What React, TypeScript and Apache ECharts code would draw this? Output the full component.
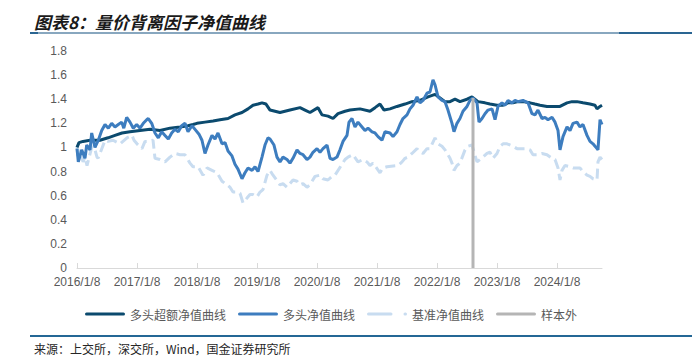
import React, { useEffect, useRef } from "react";
import * as echarts from "echarts";

const titleText = "图表8：量价背离因子净值曲线";
const sourceText = "来源：上交所，深交所，Wind，国金证券研究所";
const seriesNames = ["多头超额净值曲线", "多头净值曲线", "基准净值曲线", "样本外"];
const tickLabels = ["2016/1/8", "2017/1/8", "2018/1/8", "2019/1/8", "2020/1/8", "2021/1/8", "2022/1/8", "2023/1/8", "2024/1/8"];
const firstYear = 2016;
const lastTime = 2024.75;

// [time in fractional years since 2016/1/8, value]
const excessCurve: [number, number][] = [
  [2016.0, 1.0], [2016.033, 1.04], [2016.1, 1.05], [2016.217, 1.06], [2016.383, 1.06], [2016.517, 1.08],
  [2016.633, 1.1], [2016.75, 1.12], [2016.883, 1.13], [2017.05, 1.14], [2017.217, 1.15], [2017.383, 1.14],
  [2017.55, 1.16], [2017.717, 1.17], [2017.85, 1.18], [2017.933, 1.19], [2018.0, 1.2], [2018.133, 1.21],
  [2018.267, 1.22], [2018.383, 1.23], [2018.517, 1.24], [2018.633, 1.27], [2018.75, 1.29], [2018.85, 1.32],
  [2018.933, 1.35], [2019.017, 1.36], [2019.083, 1.37], [2019.15, 1.36], [2019.217, 1.31], [2019.3, 1.3],
  [2019.383, 1.29], [2019.55, 1.31], [2019.717, 1.33], [2019.8, 1.31], [2019.883, 1.29], [2020.017, 1.33],
  [2020.083, 1.27], [2020.183, 1.26], [2020.267, 1.24], [2020.35, 1.28], [2020.467, 1.3], [2020.55, 1.31],
  [2020.717, 1.32], [2020.883, 1.3], [2020.967, 1.33], [2021.05, 1.36], [2021.117, 1.31], [2021.217, 1.32],
  [2021.333, 1.34], [2021.467, 1.36], [2021.583, 1.38], [2021.717, 1.39], [2021.85, 1.42], [2021.967, 1.44],
  [2022.05, 1.41], [2022.133, 1.38], [2022.217, 1.38], [2022.3, 1.4], [2022.383, 1.38], [2022.5, 1.4],
  [2022.583, 1.42], [2022.683, 1.38], [2022.8, 1.37], [2022.883, 1.36], [2023.0, 1.35], [2023.1, 1.35],
  [2023.183, 1.37], [2023.267, 1.37], [2023.35, 1.38], [2023.433, 1.38], [2023.55, 1.37], [2023.633, 1.36],
  [2023.717, 1.35], [2023.833, 1.34], [2023.933, 1.34], [2024.05, 1.34], [2024.167, 1.37], [2024.25, 1.38],
  [2024.333, 1.38], [2024.433, 1.37], [2024.55, 1.36], [2024.633, 1.35], [2024.667, 1.32], [2024.717, 1.34],
  [2024.75, 1.35],
];

const longCurve: [number, number][] = [
  [2016.0, 0.99], [2016.022, 0.88], [2016.078, 0.98], [2016.133, 0.91], [2016.162, 1.02], [2016.217, 0.98],
  [2016.245, 1.12], [2016.3, 1.0], [2016.355, 1.06], [2016.412, 1.14], [2016.467, 1.19], [2016.522, 1.16],
  [2016.578, 1.2], [2016.633, 1.17], [2016.688, 1.19], [2016.745, 1.21], [2016.78, 1.16], [2016.828, 1.25],
  [2016.883, 1.21], [2016.938, 1.16], [2016.995, 1.19], [2017.05, 1.16], [2017.105, 1.2], [2017.162, 1.23],
  [2017.188, 1.24], [2017.245, 1.2], [2017.3, 1.12], [2017.355, 1.08], [2017.412, 1.13], [2017.467, 1.1],
  [2017.522, 1.07], [2017.578, 1.12], [2017.633, 1.15], [2017.688, 1.13], [2017.745, 1.18], [2017.8, 1.2],
  [2017.85, 1.13], [2017.917, 1.18], [2017.967, 1.15], [2018.033, 1.11], [2018.083, 1.06], [2018.133, 0.95],
  [2018.183, 1.02], [2018.25, 1.1], [2018.3, 1.07], [2018.35, 1.12], [2018.417, 1.03], [2018.467, 1.04],
  [2018.517, 0.97], [2018.583, 0.93], [2018.633, 0.86], [2018.683, 0.82], [2018.75, 0.74], [2018.8, 0.79],
  [2018.85, 0.83], [2018.917, 0.81], [2018.967, 0.84], [2019.017, 0.8], [2019.083, 0.92], [2019.133, 1.02],
  [2019.183, 1.08], [2019.217, 1.07], [2019.283, 1.02], [2019.333, 0.92], [2019.383, 0.88], [2019.433, 0.92],
  [2019.5, 0.9], [2019.55, 0.87], [2019.6, 0.91], [2019.667, 0.98], [2019.717, 0.95], [2019.767, 0.94],
  [2019.833, 0.9], [2019.883, 0.92], [2019.933, 0.96], [2020.0, 0.99], [2020.05, 0.96], [2020.1, 0.99],
  [2020.167, 1.02], [2020.217, 0.91], [2020.267, 0.9], [2020.333, 0.92], [2020.383, 0.98], [2020.433, 1.05],
  [2020.5, 1.1], [2020.533, 1.21], [2020.583, 1.24], [2020.633, 1.17], [2020.683, 1.21], [2020.75, 1.17],
  [2020.8, 1.14], [2020.85, 1.16], [2020.917, 1.13], [2020.967, 1.12], [2021.017, 1.09], [2021.083, 1.06],
  [2021.133, 1.13], [2021.217, 1.12], [2021.267, 1.09], [2021.333, 1.13], [2021.383, 1.19], [2021.433, 1.24],
  [2021.5, 1.27], [2021.55, 1.32], [2021.6, 1.35], [2021.667, 1.42], [2021.717, 1.37], [2021.767, 1.39],
  [2021.833, 1.45], [2021.883, 1.46], [2021.933, 1.56], [2021.967, 1.52], [2022.017, 1.42], [2022.083, 1.39],
  [2022.133, 1.38], [2022.183, 1.31], [2022.25, 1.2], [2022.283, 1.13], [2022.333, 1.2], [2022.383, 1.24],
  [2022.433, 1.3], [2022.5, 1.34], [2022.55, 1.39], [2022.6, 1.41], [2022.667, 1.37], [2022.7, 1.21],
  [2022.75, 1.24], [2022.8, 1.28], [2022.85, 1.31], [2022.917, 1.32], [2022.967, 1.23], [2023.017, 1.34],
  [2023.083, 1.37], [2023.133, 1.35], [2023.183, 1.39], [2023.25, 1.37], [2023.3, 1.39], [2023.35, 1.38],
  [2023.433, 1.39], [2023.517, 1.37], [2023.583, 1.28], [2023.633, 1.27], [2023.683, 1.31], [2023.75, 1.24],
  [2023.8, 1.25], [2023.85, 1.23], [2023.917, 1.25], [2023.967, 1.21], [2024.017, 1.14], [2024.05, 0.98],
  [2024.1, 1.09], [2024.167, 1.17], [2024.217, 1.14], [2024.267, 1.2], [2024.333, 1.21], [2024.383, 1.17],
  [2024.433, 1.19], [2024.5, 1.1], [2024.55, 1.05], [2024.6, 1.03], [2024.667, 0.99], [2024.683, 0.98],
  [2024.717, 1.23], [2024.75, 1.19],
];

const benchmarkCurve: [number, number][] = [
  [2016.0, 1.01], [2016.017, 0.9], [2016.05, 0.98], [2016.1, 0.88], [2016.133, 0.92], [2016.167, 0.85],
  [2016.25, 1.01], [2016.3, 0.98], [2016.333, 0.92], [2016.35, 0.91], [2016.383, 0.95], [2016.467, 1.06],
  [2016.517, 1.05], [2016.6, 1.06], [2016.717, 1.03], [2016.833, 1.08], [2016.917, 1.1], [2016.95, 1.06],
  [2017.0, 1.03], [2017.083, 0.99], [2017.133, 1.05], [2017.183, 1.05], [2017.267, 1.06], [2017.3, 0.91],
  [2017.383, 0.9], [2017.467, 0.88], [2017.55, 0.92], [2017.633, 0.95], [2017.717, 0.94], [2017.8, 0.94],
  [2017.883, 0.87], [2017.933, 0.84], [2018.017, 0.84], [2018.1, 0.77], [2018.167, 0.83], [2018.25, 0.81],
  [2018.333, 0.79], [2018.417, 0.72], [2018.5, 0.69], [2018.55, 0.67], [2018.6, 0.63], [2018.667, 0.63],
  [2018.717, 0.62], [2018.767, 0.54], [2018.833, 0.58], [2018.883, 0.61], [2018.933, 0.61], [2019.0, 0.59],
  [2019.05, 0.63], [2019.1, 0.65], [2019.167, 0.77], [2019.217, 0.81], [2019.267, 0.77], [2019.383, 0.69],
  [2019.433, 0.7], [2019.5, 0.67], [2019.55, 0.7], [2019.6, 0.73], [2019.667, 0.72], [2019.717, 0.69],
  [2019.767, 0.7], [2019.833, 0.67], [2019.883, 0.69], [2019.967, 0.76], [2020.05, 0.77], [2020.1, 0.74],
  [2020.183, 0.73], [2020.25, 0.76], [2020.3, 0.77], [2020.467, 0.9], [2020.517, 0.92], [2020.6, 0.94],
  [2020.683, 0.88], [2020.767, 0.9], [2020.833, 0.88], [2020.883, 0.85], [2020.933, 0.87], [2021.05, 0.79],
  [2021.1, 0.83], [2021.167, 0.84], [2021.35, 0.85], [2021.417, 0.88], [2021.467, 0.91], [2021.517, 0.92],
  [2021.583, 0.95], [2021.667, 0.99], [2021.717, 0.96], [2021.767, 0.95], [2021.833, 0.99], [2021.883, 0.99],
  [2021.967, 1.08], [2022.017, 1.03], [2022.083, 1.01], [2022.133, 0.98], [2022.217, 0.91], [2022.25, 0.87],
  [2022.283, 0.81], [2022.333, 0.85], [2022.383, 0.87], [2022.467, 0.98], [2022.517, 1.01], [2022.583, 1.02],
  [2022.667, 0.88], [2022.717, 0.9], [2022.767, 0.92], [2022.833, 0.95], [2022.883, 0.96], [2022.933, 0.91],
  [2023.0, 0.95], [2023.05, 1.01], [2023.1, 1.03], [2023.167, 1.03], [2023.267, 1.01], [2023.333, 0.99],
  [2023.417, 0.99], [2023.5, 0.99], [2023.55, 0.98], [2023.6, 0.94], [2023.667, 0.94], [2023.75, 0.95],
  [2023.833, 0.94], [2023.917, 0.91], [2023.967, 0.9], [2024.017, 0.83], [2024.05, 0.73], [2024.083, 0.81],
  [2024.133, 0.85], [2024.217, 0.84], [2024.267, 0.83], [2024.383, 0.83], [2024.433, 0.8], [2024.5, 0.77],
  [2024.55, 0.76], [2024.6, 0.74], [2024.667, 0.73], [2024.683, 0.88], [2024.717, 0.92], [2024.75, 0.9],
];

const outOfSampleStart = 2022.6;
const outOfSampleTop = 1.41;

const colors = ["#0b4a6e", "#3d7dbf", "#c8dcf0", "#b5b5b5"];
const solidIcon = "path://M1.5,0L38.5,0A1.5,1.5,0,0,1,38.5,3L1.5,3A1.5,1.5,0,0,1,1.5,0Z";
const dashIcon = "path://M1.5,0L24,0A1.5,1.5,0,0,1,24,3L1.5,3A1.5,1.5,0,0,1,1.5,0Z M38,0L38.5,0A1.5,1.5,0,0,1,38.5,3L38,3A1.5,1.5,0,0,1,38,0Z";

export default function App() {
  const ref = useRef<HTMLDivElement>(null);
  useEffect(() => {
    if (!ref.current) return;
    const chart = echarts.init(ref.current, null, { renderer: "svg" });
    chart.setOption({
      animation: false,
      backgroundColor: "#ffffff",
      title: {
        text: titleText,
        left: 29,
        top: 8,
        textStyle: {
          fontFamily: "Noto Sans CJK SC",
          fontSize: 17,
          fontWeight: "bold",
          fontStyle: "italic",
          color: "#1a1a1a",
        },
      },
      graphic: [
        { type: "line", shape: { x1: 30, y1: 33, x2: 692, y2: 33 }, style: { stroke: "#88a7bf", lineWidth: 2 } },
        { type: "line", shape: { x1: 30, y1: 33, x2: 38, y2: 33 }, style: { stroke: "#2a6592", lineWidth: 2 } },
        { type: "line", shape: { x1: 619, y1: 33, x2: 692, y2: 33 }, style: { stroke: "#2a6592", lineWidth: 2 } },
        { type: "line", shape: { x1: 30, y1: 336, x2: 692, y2: 336 }, style: { stroke: "#246795", lineWidth: 2 } },
        {
          type: "text",
          left: 34,
          top: 342,
          style: { text: sourceText, fontFamily: "Noto Sans CJK SC", fontSize: 12, fill: "#262626" },
        },
      ],
      legend: {
        data: [
          { name: seriesNames[0], icon: solidIcon },
          { name: seriesNames[1], icon: solidIcon },
          { name: seriesNames[2], icon: dashIcon },
          { name: seriesNames[3], icon: solidIcon },
        ],
        left: 80,
        top: 303,
        itemWidth: 40,
        itemHeight: 3,
        itemGap: 12,
        textStyle: { fontFamily: "Noto Sans CJK SC", fontSize: 12, color: "#595959" },
      },
      grid: { left: 77, right: 94, top: 51, bottom: 93, containLabel: false },
      xAxis: {
        type: "value",
        min: firstYear,
        max: lastTime,
        interval: 1,
        axisLine: { show: true, lineStyle: { color: "#d9d9d9", width: 1 } },
        axisTick: { show: true, inside: true, length: 5, lineStyle: { color: "#d9d9d9" } },
        splitLine: { show: false },
        axisLabel: {
          showMaxLabel: false,
          margin: 8,
          fontFamily: "Liberation Sans",
          fontSize: 12,
          color: "#595959",
          formatter: (v: number) => tickLabels[Math.round(v - firstYear)] ?? "",
        },
      },
      yAxis: {
        type: "value",
        min: 0,
        max: 1.8,
        interval: 0.2,
        axisLine: { show: false },
        axisTick: { show: false },
        splitLine: { show: false },
        axisLabel: {
          margin: 10,
          fontFamily: "Liberation Sans",
          fontSize: 12,
          color: "#595959",
          formatter: (v: number) => String(Math.round(v * 10) / 10),
        },
      },
      series: [
        {
          name: seriesNames[0],
          type: "line",
          data: excessCurve,
          showSymbol: false,
          symbol: "none",
          z: 3,
          color: colors[0],
          lineStyle: { color: colors[0], width: 3 },
        },
        {
          name: seriesNames[1],
          type: "line",
          data: longCurve,
          showSymbol: false,
          symbol: "none",
          z: 4,
          color: colors[1],
          lineStyle: { color: colors[1], width: 3 },
        },
        {
          name: seriesNames[2],
          type: "line",
          data: benchmarkCurve,
          showSymbol: false,
          symbol: "none",
          z: 2,
          color: colors[2],
          lineStyle: { color: colors[2], width: 3, type: [10, 5] },
        },
        {
          name: seriesNames[3],
          type: "line",
          data: [
            [outOfSampleStart, 0],
            [outOfSampleStart, outOfSampleTop],
          ],
          showSymbol: false,
          symbol: "none",
          z: 5,
          color: colors[3],
          lineStyle: { color: colors[3], width: 3 },
        },
      ],
    });
    return () => chart.dispose();
  }, []);
  return (
    <div
      ref={ref}
      style={{ position: "fixed", left: 0, top: 0, width: 696, height: 361, background: "#fff" }}
    />
  );
}
